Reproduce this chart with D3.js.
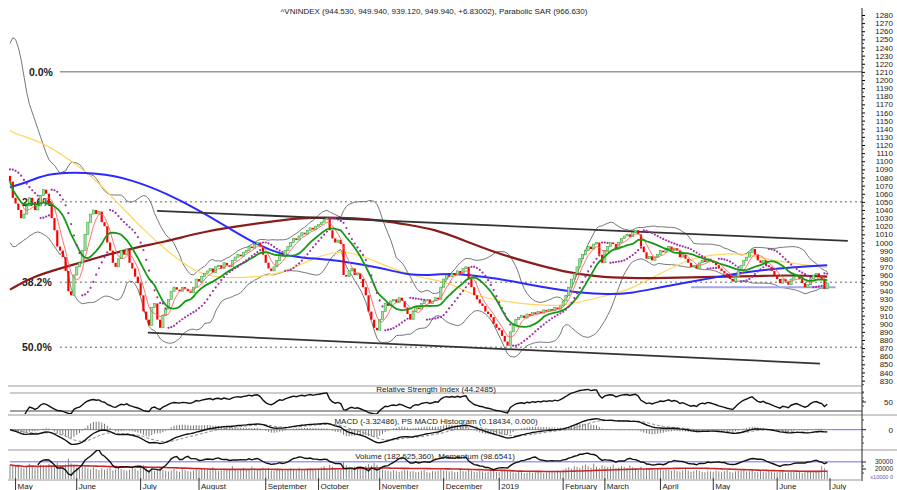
<!DOCTYPE html>
<html>
<head>
<meta charset="utf-8">
<script src="https://cdn.jsdelivr.net/npm/d3@7"></script>
<style>
body{margin:0;background:#fff;}
svg{display:block;font-family:"Liberation Sans",Arial,sans-serif;}
</style>
</head>
<body>
<svg id="chart"></svg>
<script>
// ---- data ----
const titleText = "^VNINDEX (944.530, 949.940, 939.120, 949.940, +6.83002), Parabolic SAR (966.630)";
const rsiTitle = "Relative Strength Index (44.2485)";
const macdTitle = "MACD (-3.32486), PS MACD Histogram (0.18434, 0.000)";
const volTitle = "Volume (182,625,360), Momentum (98.6541)";

const monthLabels = ["May","June","July","August","September","October","November","December","2019","February","March","April","May","June","July"];
const monthStarts = [2,24,47,68,92,111,133,156,176,199,214,234,253,276,295];

const firstOpen = 1082;
const closes = [
1075,1055,1048,1040,1030,1035,1045,1055,1050,1040,
1045,1058,1065,1060,1048,1030,1015,995,990,982,
965,940,935,960,970,975,990,1010,1025,1035,
1040,1035,1038,1025,1020,1000,990,975,970,980,
990,985,992,975,968,958,950,935,915,905,
898,920,925,905,895,910,918,930,940,945,
942,940,945,943,940,938,945,955,952,958,
962,965,968,963,970,972,968,975,972,970,
978,982,985,983,988,990,995,993,998,1000,
995,985,975,968,965,970,978,985,983,990,
995,1000,1005,1003,1008,1012,1010,1015,1018,1016,
1020,1022,1025,1028,1030,1015,1005,1000,1003,998,
960,958,965,968,960,962,955,945,935,915,
905,895,892,905,915,925,922,928,930,926,
932,928,920,912,905,915,920,918,925,928,
930,925,928,932,930,945,955,960,958,962,
960,965,962,968,970,955,945,935,930,925,
922,915,912,908,900,895,892,885,878,873,
890,898,905,908,910,907,912,910,914,912,
915,913,917,915,918,916,920,918,922,928,
935,945,955,962,970,980,985,990,995,992,
998,1000,985,975,990,995,1000,998,992,1000,
1005,1008,1010,1007,1012,1015,1010,995,988,980,
983,978,982,985,990,988,992,995,990,993,
990,982,985,980,975,970,972,968,975,978,
976,980,978,975,972,968,965,962,958,955,
952,958,965,972,978,982,988,992,985,978,
975,978,972,970,965,960,955,950,955,952,
948,955,958,960,955,950,945,948,955,960,
962,958,955,943,950];

const volumes = [
26000,24500,23000,25500,22000,21000,24000,27500,23500,21000,22500,26000,25000,24500,27000,23000,22500,29000,24000,21500,26500,35000,28000,25000,
22000,20500,23500,24000,21000,19500,22500,20000,18500,21000,19000,20500,23000,18000,19500,21500,20000,18500,17500,19000,22000,20500,18000,
23000,25500,21000,19000,20500,17500,18500,22000,19000,17000,16500,18000,20000,17500,16000,19500,18500,17000,16500,18000,19000,
18500,20000,21500,19500,18000,22500,19000,17500,20500,21000,18500,19500,24000,20000,18000,19500,21500,20000,18500,23500,21000,19000,20500,22000,
19000,21500,18000,17000,19500,20000,18500,17500,19000,21000,20500,18000,22000,19500,18500,20000,21500,19000,20500,
21000,22500,24000,20500,26000,23000,21500,20000,19500,30000,25500,22000,21000,23500,20000,19500,22500,24500,27000,25000,28500,26000,
22000,19500,18000,17500,16500,18500,17000,16000,17500,19000,18000,16500,17000,15500,16000,17500,18500,16000,15000,17000,16500,18000,19500,
18000,17500,16500,17000,15500,16000,18500,17000,16500,19000,17500,16000,15500,17000,16500,15000,16000,17500,18500,16000,
15500,17000,19500,18000,16500,15000,14500,16000,15500,14000,15000,16500,14500,15000,16000,15500,14000,15000,17000,16000,15500,18000,17500,
19000,21000,22500,20500,24000,23000,21500,25000,26500,24000,22000,27500,23500,21000,25500,
24000,22500,23500,26000,21500,22000,24500,23000,21500,25000,22500,21000,20500,23500,19500,21000,20000,18500,19500,21000,
19000,18000,20500,19500,17500,18500,17000,16500,18000,19500,17500,16000,17000,18500,17500,16000,15500,17000,16500,
16000,17500,16500,15500,17000,18500,16000,15000,16500,17500,19000,18000,16500,17000,18500,16000,15500,17000,16000,15500,17500,16500,15000,
15500,17000,16000,14500,15500,16500,17500,15000,16000,14500,15500,17000,16500,15000,16000,17500,24000,21000,18263];

// long averages (their history starts before the chart) read as [index, value]
const ma50Points = [[0,1138],[1,1135],[12,1123],[20,1105],[30,1081],[40,1044],[48,1016],[56,991],[64,970],[71,958],[81,956],[90,958],[98,962],[110,982],[119,991],[128,982],[136,970],[146,958],[153,954],[160,948],[167,933],[187,923],[199,921],[215,935],[223,942],[234,962],[244,979],[252,985],[265,987],[270,980],[291,970],[294,969]];
const ma100Points = [[0,1068],[7,1075],[14,1086],[32,1086],[44,1077],[56,1061],[68,1040],[80,1015],[89,997],[98,985],[105,981],[116,979],[128,972],[137,966],[143,960],[153,960],[158,962],[165,960],[175,956],[187,948],[197,942],[205,938],[215,936],[223,937],[234,945],[252,956],[265,964],[282,970],[294,972]];
const ma200Points = [[0,942],[8,958],[20,970],[32,982],[44,993],[56,1001],[68,1012],[80,1019],[92,1025],[104,1030],[113,1031],[124,1030],[134,1027],[143,1022],[153,1016],[163,1003],[175,987],[187,975],[199,964],[211,958],[223,956],[234,956],[258,958],[282,960],[294,958]];
// bollinger band before 20 days of history exist
const bbHeadUpper = [1245,1252,1250,1240,1225,1205,1185,1170,1160,1150,1140,1130,1120,1110,1102,1098,1095,1090,1085];
const bbHeadLower = [1000,995,995,998,1000,1003,1005,1008,1010,1012,1013,1012,1010,1008,1005,1000,995,990,985];

const fibLevels = [{label:"0.0%", value:1210, solid:true},{label:"23.6%", value:1050},{label:"38.2%", value:951},{label:"50.0%", value:871}];
const trendLines = [[[52.9,1039],[301.4,1002]],[[49.6,889],[291.4,851]]];   // [index, value] end points
const supportLine = [[245,945],[297,945]];

// ---- setup ----
const svgWidth = 897, svgHeight = 490;
const axisX = 862;
const svg = d3.select('#chart').attr("width", svgWidth).attr("height", svgHeight);
svg.append("rect").attr("width", svgWidth).attr("height", svgHeight).attr("fill", "#fff");

const x = d3.scaleLinear().domain([0, 295]).range([10, 830]);
const y = d3.scaleLinear().domain([830, 1280]).range([380.6, 15]);

const defs = svg.append("defs");
function clip(id, y0, y1){
	defs.append("clipPath").attr("id", id).append("rect")
		.attr("x", 8).attr("y", y0).attr("width", axisX - 8).attr("height", y1 - y0);
}
clip("cPrice", 8, 385);
clip("cRsi", 386, 414);
clip("cMacd", 415, 449);
clip("cVol", 450, 479);

// ---- indicator helpers ----
function sma(arr, n){
	return arr.map((d,i) => {
		const s = arr.slice(Math.max(0, i - n + 1), i + 1);
		return d3.mean(s);
	});
}
function ema(arr, n){
	const k = 2 / (n + 1);
	const out = [];
	arr.forEach((d,i) => out.push(i === 0 ? d : d * k + out[i-1] * (1 - k)));
	return out;
}

const opens = closes.map((c,i) => i === 0 ? firstOpen : closes[i-1]);
const highs = closes.map((c,i) => Math.max(c, opens[i]));
const lows = closes.map((c,i) => Math.min(c, opens[i]));

const ma5 = sma(closes, 5);
const ma13 = sma(closes, 13);

// Bollinger bands (20, 2)
const bbUpper = [], bbLower = [];
closes.forEach((c,i) => {
	if(i < 19){ bbUpper.push(bbHeadUpper[i]); bbLower.push(bbHeadLower[i]); return; }
	const w = closes.slice(i - 19, i + 1);
	const m = d3.mean(w);
	const sd = Math.sqrt(d3.mean(w, v => (v - m) * (v - m)));
	bbUpper.push(m + 2 * sd);
	bbLower.push(m - 2 * sd);
});

// Parabolic SAR
const sar = [];
let up = false, af = 0.02, ep = lows[0], s = highs[0] + 8;
sar.push(s);
for(let i = 1; i < closes.length; i++){
	s = s + af * (ep - s);
	if(up){
		s = Math.min(s, lows[i-1], i > 1 ? lows[i-2] : lows[i-1]);
		if(lows[i] < s){ up = false; s = ep; ep = lows[i]; af = 0.02; }
		else if(highs[i] > ep){ ep = highs[i]; af = Math.min(af + 0.02, 0.2); }
	} else {
		s = Math.max(s, highs[i-1], i > 1 ? highs[i-2] : highs[i-1]);
		if(highs[i] > s){ up = true; s = ep; ep = highs[i]; af = 0.02; }
		else if(lows[i] < ep){ ep = lows[i]; af = Math.min(af + 0.02, 0.2); }
	}
	sar.push(s);
}

// RSI 14 (Wilder)
const rsi = [null];
let avgG = 0, avgL = 0;
for(let i = 1; i < closes.length; i++){
	const ch = closes[i] - closes[i-1];
	const g = Math.max(ch, 0), l = Math.max(-ch, 0);
	if(i <= 14){ avgG = (avgG * (i - 1) + g) / i; avgL = (avgL * (i - 1) + l) / i; }
	else { avgG = (avgG * 13 + g) / 14; avgL = (avgL * 13 + l) / 14; }
	rsi.push(avgL === 0 ? 100 : 100 - 100 / (1 + avgG / avgL));
}

// MACD
const e12 = ema(closes, 12), e26 = ema(closes, 26);
const macd = closes.map((d,i) => e12[i] - e26[i]);
const signal = ema(macd, 9);
const hist = macd.map((d,i) => d - signal[i]);

// Momentum 10 and volume average
const momentum = closes.map((c,i) => i >= 10 ? c / closes[i-10] * 100 : null);
const volMa = sma(volumes, 50);

// ---- price pane ----
const gPrice = svg.append("g");
const gClip = svg.append("g").attr("clip-path", "url(#cPrice)");

// fibonacci levels
fibLevels.forEach(f => {
	gPrice.append("line")
		.attr("x1", 60).attr("x2", axisX)
		.attr("y1", y(f.value)).attr("y2", y(f.value))
		.attr("stroke", "#999")
		.attr("stroke-width", 1.5)
		.attr("stroke-dasharray", f.solid ? null : "2,3");
	gPrice.append("text")
		.attr("x", f.solid ? 29 : 22).attr("y", y(f.value) + 4)
		.attr("font-size", 10.5).attr("font-weight", "bold").attr("fill", "#222")
		.text(f.label);
});

const lineIdx = (arr) => d3.line().defined(d => d != null).x((d,i) => x(i)).y(d => y(d))(arr);
const linePts = d3.line().curve(d3.curveBasis).x(d => x(d[0])).y(d => y(d[1]));

// bollinger
gClip.append("path").attr("d", lineIdx(bbUpper)).attr("fill", "none").attr("stroke", "#666").attr("stroke-width", 0.9);
gClip.append("path").attr("d", lineIdx(bbLower)).attr("fill", "none").attr("stroke", "#666").attr("stroke-width", 0.9);

// long moving averages
gClip.append("path").attr("d", linePts(ma50Points)).attr("fill", "none").attr("stroke", "#ffd75e").attr("stroke-width", 1.2);
gClip.append("path").attr("d", linePts(ma200Points)).attr("fill", "none").attr("stroke", "#8b1c1c").attr("stroke-width", 2.2);
gClip.append("path").attr("d", linePts(ma100Points)).attr("fill", "none").attr("stroke", "#2a2aff").attr("stroke-width", 2);

// trend lines
trendLines.forEach(t => {
	gClip.append("line")
		.attr("x1", x(t[0][0])).attr("y1", y(t[0][1]))
		.attr("x2", x(t[1][0])).attr("y2", y(t[1][1]))
		.attr("stroke", "#333").attr("stroke-width", 1.8);
});
gClip.append("line")
	.attr("x1", x(supportLine[0][0])).attr("y1", y(supportLine[0][1]))
	.attr("x2", x(supportLine[1][0])).attr("y2", y(supportLine[1][1]))
	.attr("stroke", "#a3a3f5").attr("stroke-width", 2);

// candles
gClip.selectAll(".candle")
	.data(closes)
	.enter().append("rect")
		.attr("class", "candle")
		.attr("x", (d,i) => x(i) - 1.1)
		.attr("width", 2.2)
		.attr("y", (d,i) => y(highs[i]))
		.attr("height", (d,i) => Math.max(1, y(lows[i]) - y(highs[i])))
		.attr("fill", (d,i) => d >= opens[i] ? "#a6e3a0" : "#ff0000")
		.attr("stroke", (d,i) => d >= opens[i] ? "#3aa63a" : "none")
		.attr("stroke-width", 0.6);

// short moving averages
gClip.append("path").attr("d", lineIdx(ma5)).attr("fill", "none").attr("stroke", "#ff5a5a").attr("stroke-width", 1).attr("opacity", 0.85);
gClip.append("path").attr("d", lineIdx(ma13)).attr("fill", "none").attr("stroke", "#139a13").attr("stroke-width", 1.8);

// parabolic SAR
gClip.selectAll(".sar")
	.data(sar)
	.enter().append("circle")
		.attr("class", "sar")
		.attr("cx", (d,i) => x(i))
		.attr("cy", d => y(d))
		.attr("r", 1.1)
		.attr("fill", "#9b30a8");

// title
svg.append("text").attr("x", 434).attr("y", 14).attr("text-anchor", "middle")
	.attr("font-size", 8).attr("fill", "#222").text(titleText);

// ---- pane separators ----
[[386, axisX],[415, svgWidth],[450, svgWidth]].forEach(s => {
	svg.append("line").attr("x1", 8).attr("x2", s[1]).attr("y1", s[0]).attr("y2", s[0])
		.attr("stroke", "#999").attr("stroke-width", 1);
});

// ---- RSI pane ----
const rsiY = d3.scaleLinear().domain([25, 75]).range([411, 393]);
[75, 25].forEach(v => {
	svg.append("line").attr("x1", 10).attr("x2", axisX).attr("y1", rsiY(v)).attr("y2", rsiY(v))
		.attr("stroke", v === 75 ? "#999" : "#444").attr("stroke-width", 1);
});
svg.append("g").attr("clip-path", "url(#cRsi)").append("path")
	.attr("d", d3.line().defined((d,i) => i > 2).x((d,i) => x(i)).y(d => rsiY(d))(rsi))
	.attr("fill", "none").attr("stroke", "#111").attr("stroke-width", 1.4);
svg.append("text").attr("x", 436).attr("y", 392).attr("text-anchor", "middle")
	.attr("font-size", 8).attr("fill", "#222").text(rsiTitle);

// ---- MACD pane ----
const macdY = d3.scaleLinear().domain([-40, 25]).range([450, 417]);
svg.append("line").attr("x1", 10).attr("x2", 832).attr("y1", macdY(0)).attr("y2", macdY(0)).attr("stroke", "#888");
svg.append("line").attr("x1", 832).attr("x2", axisX).attr("y1", macdY(0)).attr("y2", macdY(0)).attr("stroke", "#6b6bff");
const gMacd = svg.append("g").attr("clip-path", "url(#cMacd)");
gMacd.selectAll(".hist")
	.data(hist)
	.enter().append("line")
		.attr("class", "hist")
		.attr("x1", (d,i) => x(i)).attr("x2", (d,i) => x(i))
		.attr("y1", macdY(0)).attr("y2", d => macdY(d * 1.6))
		.attr("stroke", "#555").attr("stroke-width", 0.8);
gMacd.append("path").attr("d", d3.line().x((d,i) => x(i)).y(d => macdY(d))(signal))
	.attr("fill", "none").attr("stroke", "#888").attr("stroke-width", 1).attr("stroke-dasharray", "3,2");
gMacd.append("path").attr("d", d3.line().x((d,i) => x(i)).y(d => macdY(d))(macd))
	.attr("fill", "none").attr("stroke", "#111").attr("stroke-width", 1.4);
svg.append("text").attr("x", 436).attr("y", 424).attr("text-anchor", "middle")
	.attr("font-size", 8).attr("fill", "#222").text(macdTitle);

// ---- volume / momentum pane ----
const volY = d3.scaleLinear().domain([20000, 30000]).range([469, 462]);
const momY = d3.scaleLinear().domain([86, 110]).range([477, 451]);
const gVol = svg.append("g").attr("clip-path", "url(#cVol)");
gVol.append("line").attr("x1", 10).attr("x2", axisX).attr("y1", momY(100)).attr("y2", momY(100))
	.attr("stroke", "#6b6bff").attr("stroke-width", 1);
gVol.selectAll(".vol")
	.data(volumes)
	.enter().append("line")
		.attr("class", "vol")
		.attr("x1", (d,i) => x(i)).attr("x2", (d,i) => x(i))
		.attr("y1", 480).attr("y2", d => volY(d))
		.attr("stroke", "#777").attr("stroke-width", 0.9);
gVol.append("path").attr("d", d3.line().x((d,i) => x(i)).y(d => volY(d))(volMa))
	.attr("fill", "none").attr("stroke", "#c62828").attr("stroke-width", 1.6);
gVol.append("path").attr("d", d3.line().defined(d => d != null).x((d,i) => x(i)).y(d => momY(d))(momentum))
	.attr("fill", "none").attr("stroke", "#111").attr("stroke-width", 1.4);
svg.append("text").attr("x", 435).attr("y", 459).attr("text-anchor", "middle")
	.attr("font-size", 8).attr("fill", "#222").text(volTitle);

// ---- right axis ----
const gAxis = svg.append("g").attr("transform", "translate(" + axisX + ",0)");
gAxis.append("line").attr("y1", 8).attr("y2", 481).attr("stroke", "#222");
gAxis.call(d3.axisRight(y).tickValues(d3.range(830, 1290, 10)).tickSize(3).tickFormat(d3.format("d")))
	.call(g => g.select(".domain").remove())
	.call(g => g.selectAll("text").attr("x", 31).attr("text-anchor", "end").attr("font-size", 8).attr("fill", "#222"));
gAxis.selectAll(".minor")
	.data(d3.range(835, 1285, 10).concat([825, 815, 805]))
	.enter().append("line")
		.attr("class", "minor")
		.attr("x2", 2).attr("y1", d => y(d)).attr("y2", d => y(d))
		.attr("stroke", "#444");
const subTicks = [[50, rsiY(50), 8],[0, macdY(0), 8],[30000, volY(30000), 6.5],[20000, volY(20000), 6.5]];
subTicks.forEach(t => {
	gAxis.append("line").attr("x2", 4).attr("y1", t[1]).attr("y2", t[1]).attr("stroke", "#222");
	gAxis.append("text").attr("x", 31).attr("y", t[1] + (t[2] < 8 ? 2.3 : 3)).attr("text-anchor", "end")
		.attr("font-size", t[2]).attr("fill", "#222").text(t[0]);
});
[392,398,406,420,437,443,466,473].forEach(v => {
	gAxis.append("line").attr("x2", 2).attr("y1", v).attr("y2", v).attr("stroke", "#444");
});
gAxis.append("text").attr("x", 31).attr("y", 478.5).attr("text-anchor", "end")
	.attr("font-size", 5.5).attr("fill", "#5a5aa8").text("x10000 0");

// ---- bottom month axis ----
svg.append("line").attr("x1", 8).attr("x2", axisX).attr("y1", 480).attr("y2", 480).attr("stroke", "#999");
monthStarts.forEach((m,k) => {
	svg.append("line").attr("x1", x(m)).attr("x2", x(m)).attr("y1", 478).attr("y2", 490)
		.attr("stroke", "#333");
	svg.append("text").attr("x", x(m) + 2).attr("y", 489)
		.attr("font-size", 8).attr("fill", "#222").text(monthLabels[k]);
});
</script>
</body>
</html>
